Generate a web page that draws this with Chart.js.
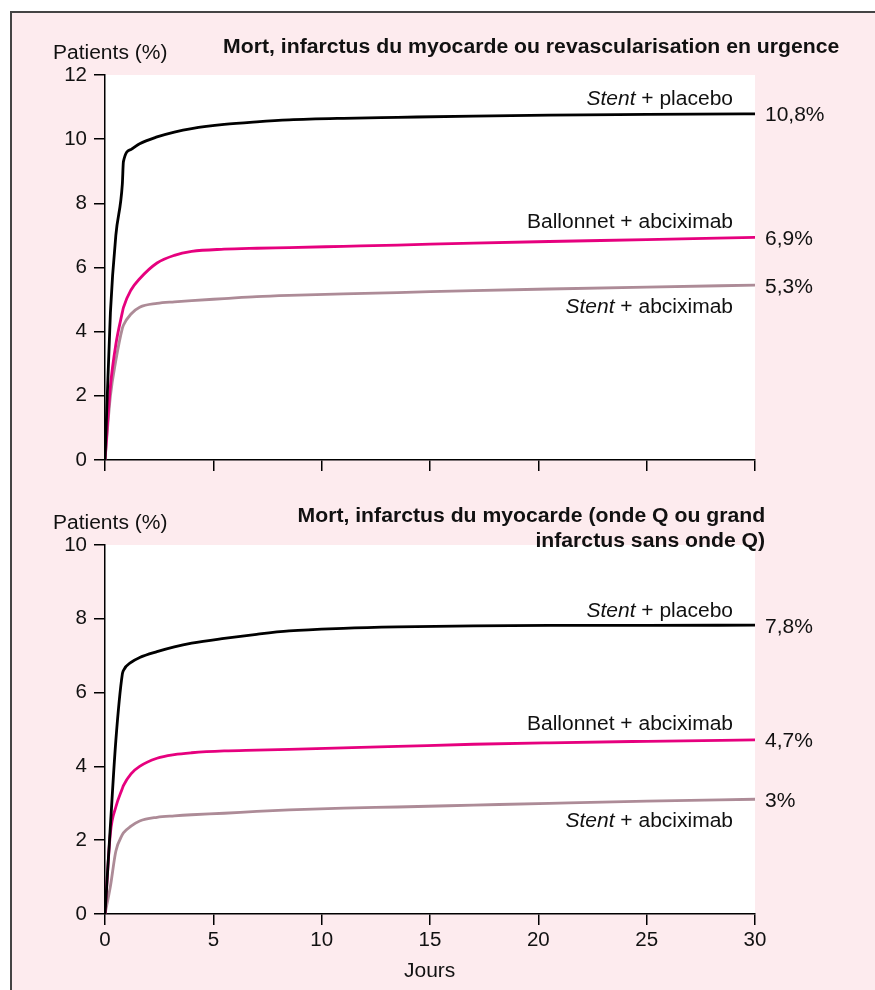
<!DOCTYPE html>
<html>
<head>
<meta charset="utf-8">
<script src="https://cdn.jsdelivr.net/npm/chart.js@4.4.1/dist/chart.umd.min.js"></script>
<style>
  body { margin: 0; background: #fff; font-family: "Liberation Sans", Arial, sans-serif; }
  #page { position: relative; width: 875px; height: 990px; overflow: hidden; }
  #frame { position: absolute; left: 10px; top: 11px; width: 900px; height: 1000px;
           border: 2px solid #444; background: #fdebee; }
  canvas { position: absolute; left: 0; }
  .txt { position: absolute; font-size: 20px; line-height: 20px; color: #111; white-space: nowrap;
         transform: scaleX(1.05); transform-origin: left center; }
  .ttl { font-weight: bold; text-align: right; line-height: 25px; transform: scaleX(1.06); transform-origin: right center; }
</style>
</head>
<body>
<div id="page">
  <div id="frame"></div>
  <canvas id="topChart" width="875" height="480" style="top:0"></canvas>
  <canvas id="bottomChart" width="875" height="510" style="top:480px"></canvas>
  <div class="txt" style="left:53px; top:42px">Patients (%)</div>
  <div class="txt ttl" style="right:36px; top:34px">Mort, infarctus du myocarde ou revascularisation en urgence</div>
  <div class="txt" style="left:53px; top:512px">Patients (%)</div>
  <div class="txt ttl" style="right:110px; top:503px">Mort, infarctus du myocarde (onde Q ou grand<br>infarctus sans onde Q)</div>
  <div class="txt" style="left:404px; top:960px">Jours</div>
</div>
<script>
// days shared by every curve
const days = [0, 0.25, 0.5, 0.8, 0.85, 1.2, 1.6, 2.4, 3.2, 4, 5.5, 7, 8.5, 11, 13.5, 17, 20.5, 25, 30];

// top panel: death, MI or urgent revascularisation
const topPlacebo   = [0, 4.6, 7.0, 8.6, 9.3, 9.68, 9.86, 10.07, 10.22, 10.33, 10.46, 10.54, 10.6, 10.65, 10.68, 10.72, 10.75, 10.77, 10.79];
const topBallonnet = [0, 2.3, 3.6, 4.6, 4.75, 5.3, 5.65, 6.14, 6.38, 6.5, 6.57, 6.6, 6.62, 6.66, 6.7, 6.76, 6.81, 6.87, 6.94];
const topStentAbx  = [0, 2.0, 3.1, 4.1, 4.2, 4.55, 4.76, 4.88, 4.93, 4.97, 5.03, 5.09, 5.13, 5.18, 5.22, 5.28, 5.33, 5.39, 5.45];
const topEndLabels = ['10,8%', '6,9%', '5,3%'];

// bottom panel: death, MI (Q wave or large non-Q)
const botPlacebo   = [0, 2.4, 4.7, 6.5, 6.6, 6.82, 6.95, 7.11, 7.24, 7.34, 7.47, 7.58, 7.67, 7.74, 7.78, 7.81, 7.82, 7.82, 7.83];
const botBallonnet = [0, 2.2, 2.9, 3.4, 3.48, 3.8, 4.0, 4.22, 4.32, 4.37, 4.42, 4.44, 4.46, 4.5, 4.54, 4.6, 4.64, 4.68, 4.72];
const botStentAbx  = [0, 0.75, 1.7, 2.15, 2.2, 2.38, 2.52, 2.62, 2.66, 2.69, 2.73, 2.78, 2.82, 2.87, 2.9, 2.95, 3.0, 3.06, 3.11];
const botEndLabels = ['7,8%', '4,7%', '3%'];

// series names: [italic part, normal part]
const seriesNames = [['Stent', ' + placebo'], ['', 'Ballonnet + abciximab'], ['Stent', ' + abciximab']];
const seriesColors = ['#000000', '#e6007e', '#ad8b97'];
const nameOffsets = [-14, -15, 22];

const FONT = '"Liberation Sans", Arial, sans-serif';
const STRETCH = 1.05;

const plotBg = {
  id: 'plotBg',
  beforeDraw(chart) {
    const { ctx, chartArea: a } = chart;
    ctx.save();
    ctx.fillStyle = '#fff';
    ctx.fillRect(a.left, a.top, a.right - a.left, a.bottom - a.top);
    ctx.restore();
  }
};

// text widened a little, like the original lettering
function stretchedText(ctx, text, x, y) {
  ctx.save();
  ctx.translate(x, y);
  ctx.scale(STRETCH, 1);
  ctx.fillText(text, 0, 0);
  ctx.restore();
}

const curveLabels = {
  id: 'curveLabels',
  afterDraw(chart, args, opts) {
    const { ctx, chartArea: a } = chart;
    const ys = chart.scales.y;
    ctx.save();
    ctx.fillStyle = '#111';
    ctx.textBaseline = 'middle';
    ctx.textAlign = 'left';
    chart.data.datasets.forEach((ds, i) => {
      const last = ds.data[ds.data.length - 1];
      const py = ys.getPixelForValue(last.y);
      // end value
      ctx.font = '20px ' + FONT;
      stretchedText(ctx, opts.ends[i], a.right + 10, py + 2);
      // series name, right aligned
      const [it, rest] = seriesNames[i];
      const xr = a.right - 22;
      const ny = py + nameOffsets[i];
      ctx.font = '20px ' + FONT;
      const wRest = ctx.measureText(rest).width * STRETCH;
      stretchedText(ctx, rest, xr - wRest, ny);
      if (it) {
        ctx.font = 'italic 20px ' + FONT;
        const wIt = ctx.measureText(it).width * STRETCH;
        stretchedText(ctx, it, xr - wRest - wIt, ny);
      }
    });
    ctx.restore();
  }
};

function makeChart(id, series, ends, yMax, showX, xHeight, padTop) {
  return new Chart(document.getElementById(id), {
    type: 'line',
    data: {
      datasets: series.map((vals, i) => ({
        data: days.map((d, k) => ({ x: d, y: vals[k] })),
        borderColor: seriesColors[i],
        borderWidth: 2.8,
        pointRadius: 0,
        cubicInterpolationMode: 'monotone',
        fill: false
      }))
    },
    options: {
      responsive: false,
      animation: false,
      layout: { padding: { left: 0, right: 120, top: padTop, bottom: 0 } },
      plugins: {
        legend: { display: false },
        tooltip: { enabled: false },
        curveLabels: { ends: ends }
      },
      scales: {
        x: {
          type: 'linear', min: 0, max: 30,
          ticks: { stepSize: 5, display: showX, padding: 3, color: '#111', font: { family: FONT, size: 20.5 } },
          grid: { drawOnChartArea: false, tickLength: 11, color: '#000', lineWidth: 1.5 },
          border: { color: '#000', width: 1.5 },
          afterFit: s => { s.height = xHeight; }
        },
        y: {
          min: 0, max: yMax,
          ticks: { stepSize: 2, padding: 7, color: '#111', font: { family: FONT, size: 20.5 } },
          grid: { drawOnChartArea: false, tickLength: 11, color: '#000', lineWidth: 1.5 },
          border: { color: '#000', width: 1.5 },
          afterFit: s => { s.width = 105; }
        }
      }
    },
    plugins: [plotBg, curveLabels]
  });
}

makeChart('topChart', [topPlacebo, topBallonnet, topStentAbx], topEndLabels, 12, false, 20, 75);
makeChart('bottomChart', [botPlacebo, botBallonnet, botStentAbx], botEndLabels, 10, true, 76, 65);
</script>
</body>
</html>
